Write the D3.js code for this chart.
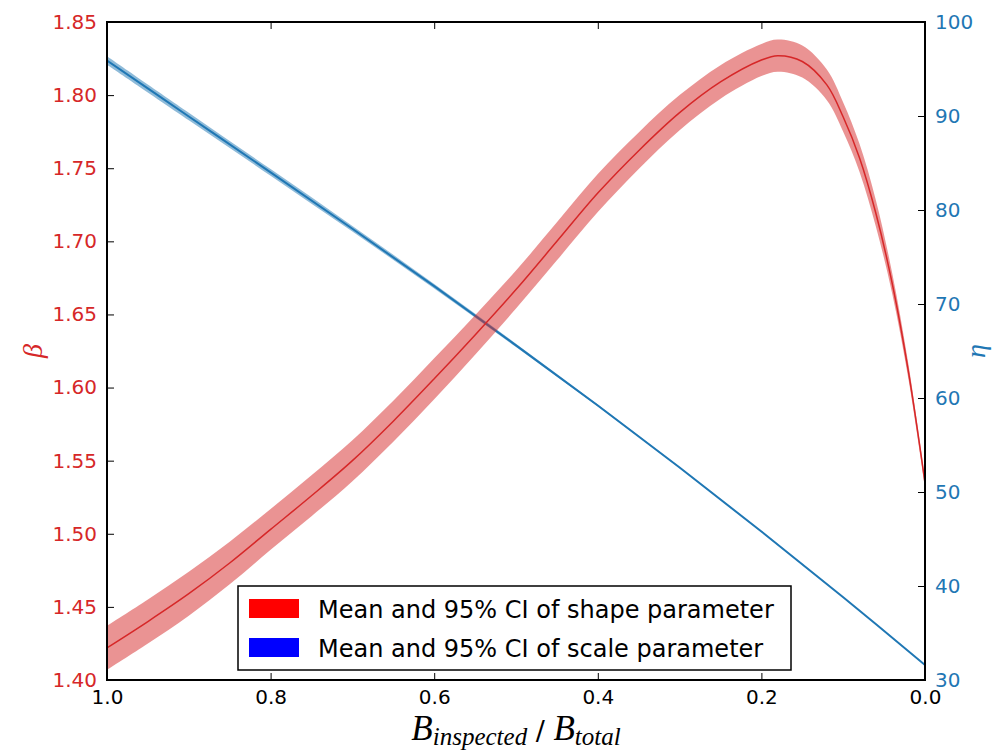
<!DOCTYPE html>
<html>
<head>
<meta charset="utf-8">
<script src="https://cdn.jsdelivr.net/npm/d3@7"></script>
<style>
  body { margin: 0; background: #fff; }
  svg { font-family: "DejaVu Sans", sans-serif; }
</style>
</head>
<body>
<div id="chart"></div>
<script>
// fraction of inspected buildings (x axis runs 1.0 -> 0.0)
const xBeta = [1.00, 0.95, 0.90, 0.85, 0.80, 0.75, 0.70, 0.65, 0.60, 0.55, 0.50, 0.45, 0.40, 0.35,
  0.30, 0.25, 0.20, 0.18, 0.15, 0.12, 0.10, 0.08, 0.06, 0.04, 0.02, 0.00];
// shape parameter, mean and 95% CI half width
const betaMean = [1.422, 1.440, 1.459, 1.480, 1.503, 1.526, 1.550, 1.577, 1.606, 1.636, 1.667, 1.700,
  1.733, 1.762, 1.788, 1.809, 1.824, 1.827, 1.823, 1.807, 1.785, 1.757, 1.719, 1.671, 1.610, 1.535];
const betaHalf = [0.015, 0.015, 0.015, 0.0145, 0.014, 0.014, 0.014, 0.014, 0.014, 0.0135, 0.013, 0.013,
  0.013, 0.0125, 0.012, 0.0115, 0.011, 0.011, 0.011, 0.0105, 0.010, 0.0095, 0.009, 0.007, 0.005, 0.003];

const xEta = [1.0, 0.9, 0.8, 0.7, 0.6, 0.5, 0.4, 0.3, 0.2, 0.1, 0.0];
// scale parameter, mean and 95% CI half width
const etaMean = [95.9, 89.95, 84.0, 78.0, 71.9, 65.6, 59.2, 52.6, 45.8, 38.8, 31.6];
const etaHalf = [0.45, 0.40, 0.35, 0.30, 0.24, 0.17, 0.11, 0.07, 0.05, 0.03, 0.02];

const xTicks = [1.0, 0.8, 0.6, 0.4, 0.2, 0.0];
const betaTicks = [1.40, 1.45, 1.50, 1.55, 1.60, 1.65, 1.70, 1.75, 1.80, 1.85];
const etaTicks = [30, 40, 50, 60, 70, 80, 90, 100];
const legendLabels = ["Mean and 95% CI of shape parameter", "Mean and 95% CI of scale parameter"];

const W = 1008, H = 750;
const mLeft = 107, mRight = 925, mTop = 22, mBottom = 680;
const red = "#d62728", blue = "#1f77b4";

const x = d3.scaleLinear().domain([1, 0]).range([mLeft, mRight]);
const yB = d3.scaleLinear().domain([1.40, 1.85]).range([mBottom, mTop]);
const yE = d3.scaleLinear().domain([30, 100]).range([mBottom, mTop]);

const svg = d3.select("#chart").append("svg")
  .attr("width", W).attr("height", H);

svg.append("defs").append("clipPath").attr("id", "clip")
  .append("rect").attr("x", mLeft).attr("y", mTop)
  .attr("width", mRight - mLeft).attr("height", mBottom - mTop);

const plot = svg.append("g").attr("clip-path", "url(#clip)");

const betaData = xBeta.map((v, i) => ({ x: v, m: betaMean[i], h: betaHalf[i] }));
const etaData = xEta.map((v, i) => ({ x: v, m: etaMean[i], h: etaHalf[i] }));

const curve = d3.curveCatmullRom.alpha(0.5);

// scale parameter band + line
plot.append("path").datum(etaData)
  .attr("fill", blue).attr("fill-opacity", 0.5)
  .attr("d", d3.area().curve(curve)
    .x(d => x(d.x)).y0(d => yE(d.m - d.h)).y1(d => yE(d.m + d.h)));
plot.append("path").datum(etaData)
  .attr("fill", "none").attr("stroke", blue).attr("stroke-width", 2)
  .attr("d", d3.line().curve(curve).x(d => x(d.x)).y(d => yE(d.m)));

// shape parameter band + line
plot.append("path").datum(betaData)
  .attr("fill", red).attr("fill-opacity", 0.5)
  .attr("d", d3.area().curve(curve)
    .x(d => x(d.x)).y0(d => yB(d.m - d.h)).y1(d => yB(d.m + d.h)));
plot.append("path").datum(betaData)
  .attr("fill", "none").attr("stroke", red).attr("stroke-width", 1.5)
  .attr("d", d3.line().curve(curve).x(d => x(d.x)).y(d => yB(d.m)));

// axes, ticks drawn inward like the classic matplotlib style
const tickLen = 7;
const axB = svg.append("g").attr("transform", `translate(0,${mBottom})`)
  .call(d3.axisBottom(x).tickValues(xTicks).tickFormat(d3.format(".1f"))
    .tickSizeInner(-tickLen).tickSizeOuter(0).tickPadding(10));
const axT = svg.append("g").attr("transform", `translate(0,${mTop})`)
  .call(d3.axisTop(x).tickValues(xTicks).tickFormat("")
    .tickSizeInner(-tickLen).tickSizeOuter(0));
const axL = svg.append("g").attr("transform", `translate(${mLeft},0)`)
  .call(d3.axisLeft(yB).tickValues(betaTicks).tickFormat(d3.format(".2f"))
    .tickSizeInner(-tickLen).tickSizeOuter(0).tickPadding(10));
const axR = svg.append("g").attr("transform", `translate(${mRight},0)`)
  .call(d3.axisRight(yE).tickValues(etaTicks).tickFormat(d3.format("d"))
    .tickSizeInner(-tickLen).tickSizeOuter(0).tickPadding(10));

[axB, axT, axL, axR].forEach(a => {
  a.select(".domain").remove();
  a.selectAll(".tick line").attr("stroke", "#000").attr("stroke-width", 1);
  a.selectAll("text").style("font-size", "20px").style("font-family", "DejaVu Sans");
});
axB.selectAll("text").attr("fill", "#000");
axL.selectAll("text").attr("fill", red);
axR.selectAll("text").attr("fill", blue);

// frame
svg.append("rect").attr("x", mLeft).attr("y", mTop)
  .attr("width", mRight - mLeft).attr("height", mBottom - mTop)
  .attr("fill", "none").attr("stroke", "#000").attr("stroke-width", 2);

// axis labels
svg.append("text")
  .attr("transform", `translate(42,${(mTop + mBottom) / 2}) rotate(-90)`)
  .attr("text-anchor", "middle")
  .attr("fill", red)
  .style("font-family", "Liberation Serif, serif").style("font-style", "italic")
  .style("font-size", "28px")
  .text("β");
svg.append("text")
  .attr("transform", `translate(985,${(mTop + mBottom) / 2}) rotate(-90)`)
  .attr("text-anchor", "middle")
  .attr("fill", blue)
  .style("font-family", "Liberation Serif, serif").style("font-style", "italic")
  .style("font-size", "28px")
  .text("η");

const xl = svg.append("text")
  .attr("x", 516).attr("y", 740)
  .attr("text-anchor", "middle")
  .attr("fill", "#000")
  .style("font-family", "Liberation Serif, serif").style("font-size", "35px");
xl.append("tspan").style("font-style", "italic").text("B");
xl.append("tspan").style("font-style", "italic").style("font-size", "25px").attr("dy", 5).text("inspected");
xl.append("tspan").style("font-family", "DejaVu Sans").style("font-size", "27px").attr("dy", -5).text(" / ");
xl.append("tspan").style("font-style", "italic").text("B");
xl.append("tspan").style("font-style", "italic").style("font-size", "25px").attr("dy", 5).text("total");

// legend
const lg = svg.append("g").attr("transform", "translate(238,586)");
lg.append("rect").attr("width", 553).attr("height", 84)
  .attr("fill", "#fff").attr("stroke", "#000").attr("stroke-width", 1.5);
const legendColors = ["#ff0000", "#0000ff"];
legendLabels.forEach((t, i) => {
  lg.append("rect").attr("x", 11).attr("y", 13 + i * 39)
    .attr("width", 50).attr("height", 19).attr("fill", legendColors[i]);
  lg.append("text").attr("x", 80).attr("y", 32 + i * 39)
    .attr("fill", "#000").style("font-size", "24px")
    .text(t);
});
</script>
</body>
</html>
